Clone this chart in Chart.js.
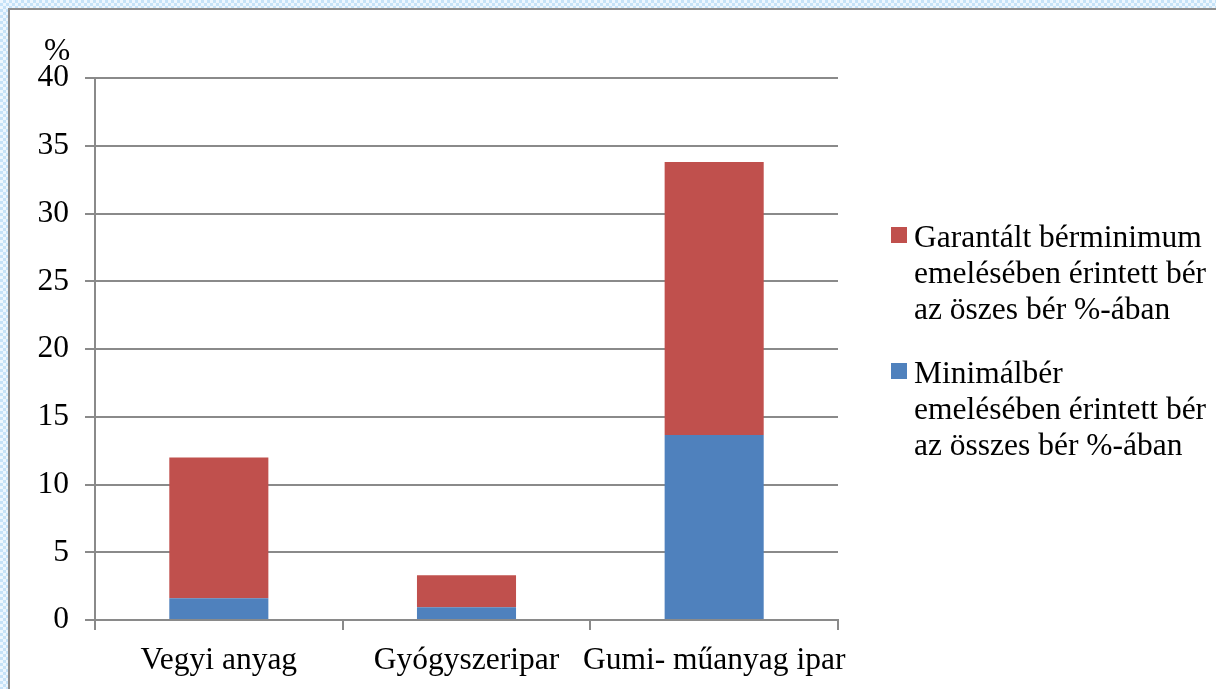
<!DOCTYPE html>
<html>
<head>
<meta charset="utf-8">
<script src="https://cdn.jsdelivr.net/npm/chart.js@4/dist/chart.umd.min.js"></script>
<style>
	html, body { margin: 0; padding: 0; }
	body {
		width: 1216px; height: 689px; overflow: hidden; position: relative;
		background: repeating-conic-gradient(#c6e3f8 0 25%, #eef7fe 0 50%) 0 0 / 6px 6px;
	}
	#frame {
		position: absolute; left: 8px; top: 8px; right: 0; bottom: 0;
		background: #fff;
		border-left: 2px solid #8e8e8e;
		border-top: 2px solid #8e8e8e;
	}
	#chart { position: absolute; left: 0; top: 0; }
	#legend {
		position: absolute; left: 891px; top: 219px;
		font-family: "Liberation Serif", "Times New Roman", serif;
		font-size: 31.5px; line-height: 36px; color: #000;
	}
	.legend-item { position: relative; padding-left: 23px; margin-bottom: 28px; white-space: nowrap; }
	.legend-box { position: absolute; left: 0; top: 8px; width: 16px; height: 16px; }
</style>
</head>
<body>
<div id="frame"></div>
<canvas id="chart" width="1216" height="689"></canvas>
<div id="legend"></div>
<script>
// adatok
const categories = ['Vegyi anyag', 'Gyógyszeripar', 'Gumi- műanyag ipar'];
const minimalberValues = [1.6, 0.95, 13.65];     // kék, alul
const garantaltValues = [10.4, 2.35, 20.15];     // piros, felül
const minimalberLines = ['Minimálbér', 'emelésében érintett bér', 'az összes bér %-ában'];
const garantaltLines = ['Garantált bérminimum', 'emelésében érintett bér', 'az öszes bér %-ában'];
const yTicks = [0, 5, 10, 15, 20, 25, 30, 35, 40];

const FONT = '"Liberation Serif", "Times New Roman", serif';
const FONT_SIZE = 31.5;
const GRID = '#8a8a8a';

const datasets = [
	{
		label: minimalberLines.join(' '),
		lines: minimalberLines,
		data: minimalberValues,
		backgroundColor: '#4f81bd',
	},
	{
		label: garantaltLines.join(' '),
		lines: garantaltLines,
		data: garantaltValues,
		backgroundColor: '#c0504d',
	},
];

// "%" felirat a tengely tetején
const percentTitle = {
	id: 'percentTitle',
	afterDraw(chart) {
		const ctx = chart.ctx;
		const area = chart.chartArea;
		ctx.save();
		ctx.font = FONT_SIZE + 'px ' + FONT;
		ctx.fillStyle = '#000';
		ctx.textAlign = 'center';
		ctx.textBaseline = 'middle';
		ctx.fillText('%', area.left - 38, area.top - 26);
		ctx.restore();
	}
};

const chart = new Chart(document.getElementById('chart'), {
	type: 'bar',
	data: {
		labels: categories,
		datasets: datasets.map(d => ({
			label: d.label,
			data: d.data,
			backgroundColor: d.backgroundColor,
			borderWidth: 0,
			categoryPercentage: 1,
			barPercentage: 0.4,
		})),
	},
	options: {
		responsive: false,
		animation: false,
		layout: { padding: { left: 0, top: 78, right: 378, bottom: 0 } },
		plugins: {
			legend: { display: false },
			tooltip: { enabled: false },
		},
		scales: {
			x: {
				stacked: true,
				afterFit: s => { s.height = 69; },
				border: { color: GRID, width: 2 },
				grid: { drawOnChartArea: false, drawTicks: true, tickLength: 10, color: GRID, lineWidth: 2, offset: true },
				ticks: { color: '#000', font: { family: FONT, size: FONT_SIZE }, padding: 12, maxRotation: 0, autoSkip: false },
			},
			y: {
				stacked: true,
				min: 0,
				max: 40,
				afterFit: s => { s.width = 95; },
				afterBuildTicks: s => { s.ticks = yTicks.map(v => ({ value: v })); },
				border: { color: GRID, width: 2 },
				grid: { color: GRID, lineWidth: 2, tickLength: 10 },
				ticks: { color: '#000', font: { family: FONT, size: FONT_SIZE }, padding: 16 },
			},
		},
	},
	plugins: [percentTitle],
});

// jelmagyarázat (fordított sorrend, mint az oszlopokban)
const legendNode = document.getElementById('legend');
datasets.slice().reverse().forEach(d => {
	const item = document.createElement('div');
	item.className = 'legend-item';
	const box = document.createElement('span');
	box.className = 'legend-box';
	box.style.background = d.backgroundColor;
	item.appendChild(box);
	d.lines.forEach((line, i) => {
		if (i > 0) item.appendChild(document.createElement('br'));
		item.appendChild(document.createTextNode(line));
	});
	legendNode.appendChild(item);
});
</script>
</body>
</html>
